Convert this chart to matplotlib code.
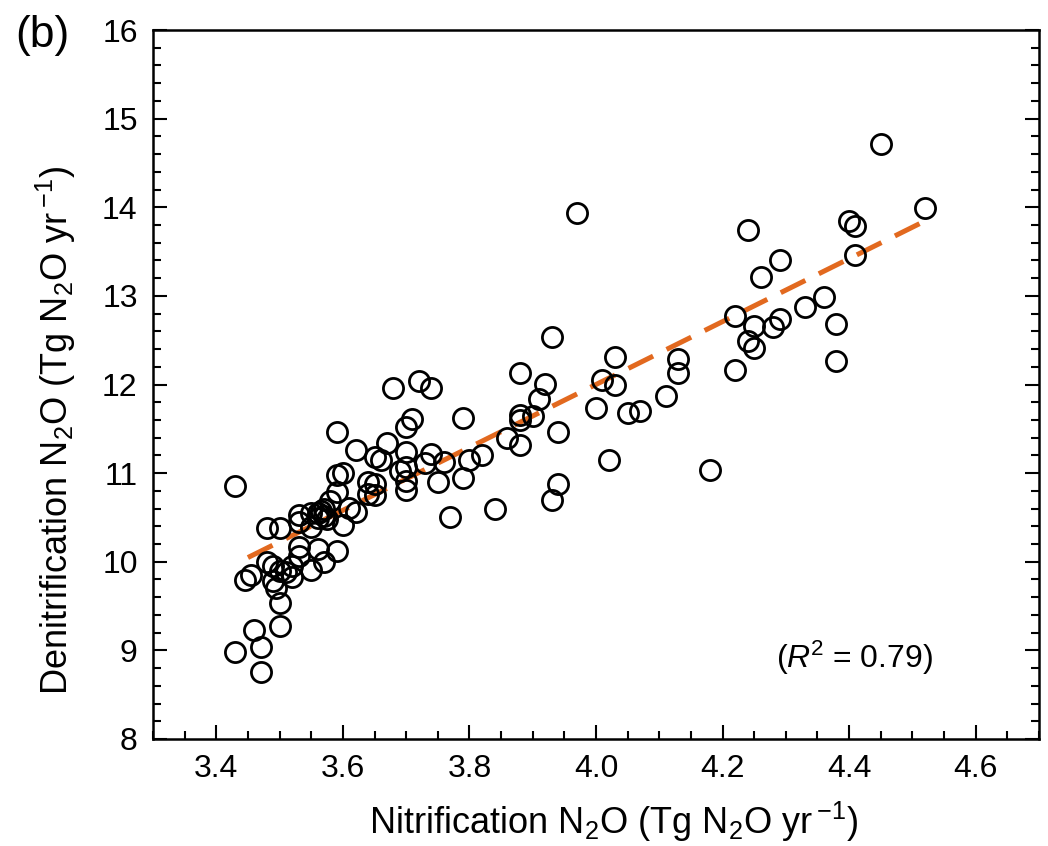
import matplotlib
matplotlib.use('Agg')
import matplotlib.pyplot as plt
import numpy as np
from matplotlib.ticker import MultipleLocator, FormatStrFormatter

# values (Tg N2O / yr)
nitrification = [
    4.45, 4.52, 3.97, 4.24, 4.40, 4.41, 4.41, 4.29, 4.26, 4.36, 4.33, 4.22,
    4.38, 4.25, 4.28, 4.29, 4.24, 4.25, 4.38, 4.22, 3.93, 4.03, 4.13, 4.13,
    3.88, 3.92, 4.01, 4.03, 3.91, 4.11, 4.00, 4.05, 4.07, 3.88, 3.88, 3.90,
    3.79, 3.94, 3.86, 3.88, 4.02, 4.18, 3.94, 3.93, 3.84, 3.77,
    3.68, 3.72, 3.74, 3.71, 3.70, 3.59, 3.62, 3.67, 3.65, 3.66, 3.70, 3.74,
    3.73, 3.76, 3.80, 3.82, 3.70, 3.69, 3.79, 3.75, 3.70, 3.70, 3.59, 3.60,
    3.64, 3.65, 3.64, 3.65, 3.59, 3.62, 3.61, 3.60, 3.58, 3.57, 3.56, 3.57,
    3.56, 3.575, 3.565, 3.55, 3.53, 3.55, 3.53, 3.48, 3.50, 3.43, 3.59, 3.56,
    3.53, 3.53, 3.57, 3.55, 3.52, 3.52, 3.51, 3.48, 3.49, 3.50, 3.455, 3.445,
    3.49, 3.495, 3.50, 3.50, 3.46, 3.47, 3.43, 3.47,
]
denitrification = [
    14.71, 13.99, 13.93, 13.74, 13.85, 13.79, 13.46, 13.40, 13.21, 12.99, 12.88, 12.77,
    12.68, 12.66, 12.65, 12.74, 12.49, 12.41, 12.27, 12.16, 12.54, 12.31, 12.29, 12.13,
    12.13, 12.01, 12.05, 11.99, 11.84, 11.87, 11.74, 11.68, 11.70, 11.66, 11.60, 11.65,
    11.62, 11.46, 11.40, 11.32, 11.15, 11.04, 10.88, 10.70, 10.59, 10.51,
    11.96, 12.04, 11.96, 11.61, 11.52, 11.46, 11.26, 11.34, 11.18, 11.15, 11.24, 11.22,
    11.11, 11.13, 11.15, 11.20, 11.07, 11.02, 10.95, 10.90, 10.91, 10.81, 10.98, 11.00,
    10.90, 10.88, 10.77, 10.75, 10.79, 10.56, 10.61, 10.42, 10.68, 10.60, 10.55, 10.52,
    10.49, 10.48, 10.57, 10.55, 10.53, 10.39, 10.45, 10.38, 10.38, 10.85, 10.12, 10.14,
    10.17, 10.06, 10.00, 9.91, 9.95, 9.83, 9.88, 10.00, 9.95, 9.90, 9.85, 9.79,
    9.78, 9.70, 9.53, 9.28, 9.23, 9.04, 8.98, 8.76,
]
# regression line as drawn in the reference
fit_slope = 3.55
fit_intercept = -2.20
fit_range = [3.45, 4.52]
r2_text = r'($\it{R}$$^{2}$ = 0.79)'

plt.rcParams['font.family'] = ['Liberation Sans', 'DejaVu Sans']
plt.rcParams['mathtext.fontset'] = 'custom'
plt.rcParams['mathtext.rm'] = 'Liberation Sans'
plt.rcParams['mathtext.it'] = 'Liberation Sans:italic'

x = np.array(nitrification)
y = np.array(denitrification)
fx = np.array(fit_range)

fig = plt.figure(figsize=(10.48, 8.46), dpi=100)
ax = fig.add_axes([0.146, 0.1265, 0.8454, 0.838])

ax.plot(x, y, 'o', ms=14.5, mfc='none', mec='black', mew=2.0, zorder=3)
ax.plot(fx, fit_slope * fx + fit_intercept, color='#E2691F', lw=3.6,
        linestyle=(0, (5.5, 3.0)), zorder=2)

ax.set_xlim(3.3, 4.7)
ax.set_ylim(8, 16)
ax.xaxis.set_major_locator(MultipleLocator(0.2))
ax.xaxis.set_minor_locator(MultipleLocator(0.05))
ax.xaxis.set_major_formatter(FormatStrFormatter('%.1f'))
ax.yaxis.set_major_locator(MultipleLocator(1))
ax.yaxis.set_minor_locator(MultipleLocator(0.2))
ax.tick_params(which='both', direction='in', top=False, right=True,
               width=1.5, labelsize=23, pad=11)
ax.tick_params(which='major', length=10)
ax.tick_params(which='minor', length=5.5)
for s in ax.spines.values():
    s.set_linewidth(1.8)

ax.set_xlabel(r'Nitrification N$_2$O (Tg N$_2$O yr$\,^{-1}$)', fontsize=26, va='center')
ax.set_ylabel(r'Denitrification N$_2$O (Tg N$_2$O yr$\,^{-1}$)', fontsize=26, va='center')
ax.xaxis.set_label_coords(0.52, -0.117)
ax.yaxis.set_label_coords(-0.11, 0.435)

ax.text(0.792, 0.115, r2_text, transform=ax.transAxes, fontsize=23,
        ha='center', va='center')
fig.text(0.040, 0.958, '(b)', fontsize=32, ha='center', va='center')

fig.savefig('out.png', dpi=100)
